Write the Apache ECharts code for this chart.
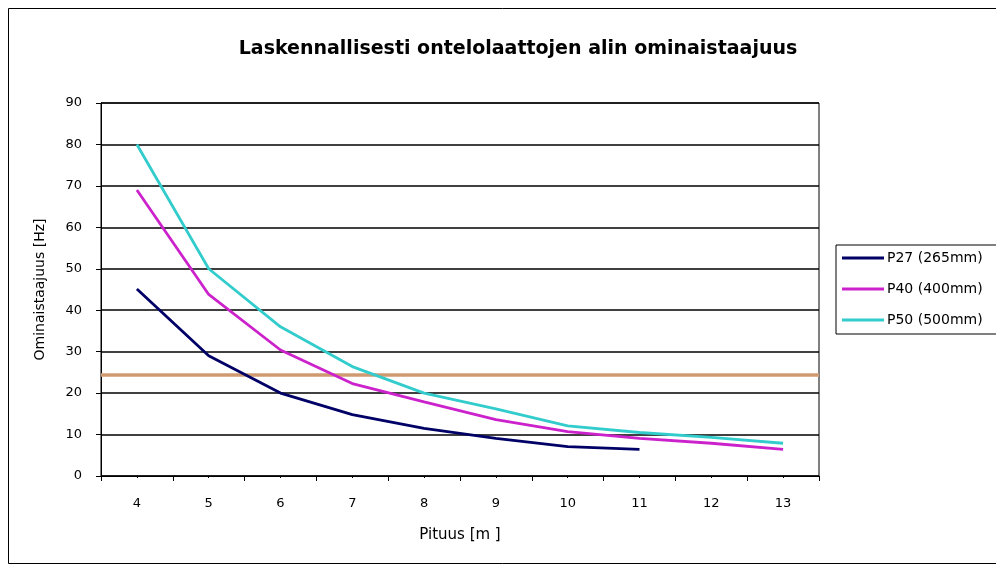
<!DOCTYPE html>
<html>
<head>
<meta charset="utf-8">
<script src="https://cdn.jsdelivr.net/npm/echarts@6/dist/echarts.min.js"></script>
<style>
  html, body { margin: 0; padding: 0; background: #fff; }
  #chart { width: 996px; height: 572px; }
</style>
</head>
<body>
<div id="chart"></div>
<script>
// Slab length [m]
const lengths = ['4', '5', '6', '7', '8', '9', '10', '11', '12', '13'];

// Lowest natural frequency [Hz] per hollow-core slab type
const p27 = [45.1, 29.0, 20.0, 14.8, 11.5, 9.1, 7.1, 6.4];
const p40 = [69.0, 43.8, 30.4, 22.3, 17.9, 13.6, 10.7, 9.1, 7.9, 6.4];
const p50 = [80.0, 50.0, 36.0, 26.4, 20.0, 16.2, 12.1, 10.5, 9.3, 7.9];

// Reference frequency limit [Hz]
const limitHz = 24.4;

const yTicks = { min: 0, max: 90, interval: 10 };

const font = 'DejaVu Sans';

const chart = echarts.init(document.getElementById('chart'), null, { renderer: 'canvas' });

const lineSeries = (name, data, color) => ({
  name,
  type: 'line',
  data,
  symbol: 'none',
  smooth: false,
  lineStyle: { color, width: 2.8 },
  itemStyle: { color },
  z: 3
});

const legendItem = (name) => ({ name, icon: 'rect' });

chart.setOption({
  backgroundColor: '#ffffff',
  animation: false,
  title: {
    text: 'Laskennallisesti ontelolaattojen alin ominaistaajuus',
    left: 513,
    top: 35,
    textAlign: 'center',
    textStyle: { fontFamily: font, fontWeight: 'bold', fontSize: 19, color: '#000' }
  },
  graphic: [{
    type: 'rect',
    shape: { x: 8.5, y: 8.5, width: 1000, height: 555 },
    style: { fill: 'none', stroke: '#000', lineWidth: 1 },
    silent: true,
    z: -1
  }],
  legend: {
    orient: 'vertical',
    left: 836,
    top: 245,
    itemWidth: 42,
    itemHeight: 3,
    itemGap: 17,
    padding: [6, 30, 7, 6],
    borderColor: '#000',
    borderWidth: 1,
    backgroundColor: '#fff',
    textStyle: { fontFamily: font, fontSize: 14, color: '#000', padding: [0, 0, 0, -2] },
    data: ['P27 (265mm)', 'P40 (400mm)', 'P50 (500mm)'].map(legendItem)
  },
  grid: {
    left: 101,
    right: 177,
    top: 103,
    bottom: 96,
    show: true,
    borderColor: '#000',
    borderWidth: 1,
    containLabel: false
  },
  xAxis: [{
    type: 'category',
    data: lengths,
    boundaryGap: true,
    name: 'Pituus [m ]',
    nameLocation: 'middle',
    nameGap: 52,
    nameTextStyle: { fontFamily: font, fontSize: 15, color: '#000' },
    axisLine: { lineStyle: { color: '#000', width: 1 } },
    axisTick: { show: true, length: 5, lineStyle: { color: '#000' } },
    axisLabel: { fontFamily: font, fontSize: 13, color: '#000', margin: 21 },
    splitLine: { show: false }
  }, {
    type: 'category',
    data: lengths,
    position: 'bottom',
    boundaryGap: true,
    axisLine: { show: false },
    axisTick: { show: true, alignWithLabel: true, length: 2, lineStyle: { color: '#000' } },
    axisLabel: { show: false },
    splitLine: { show: false }
  }],
  yAxis: {
    type: 'value',
    min: yTicks.min,
    max: yTicks.max,
    interval: yTicks.interval,
    name: 'Ominaistaajuus [Hz]',
    nameLocation: 'middle',
    nameGap: 54,
    nameRotate: 90,
    nameTextStyle: { fontFamily: font, fontSize: 14, color: '#000' },
    axisLine: { show: true, lineStyle: { color: '#000', width: 1 } },
    axisTick: { show: true, length: 5, lineStyle: { color: '#000' } },
    axisLabel: { fontFamily: font, fontSize: 13, color: '#000', margin: 19 },
    splitLine: { show: true, lineStyle: { color: '#000', width: 1.6 } }
  },
  series: [
    lineSeries('P27 (265mm)', p27, '#000066'),
    lineSeries('P40 (400mm)', p40, '#cc22cc'),
    Object.assign(lineSeries('P50 (500mm)', p50, '#33cccc'), {
      markLine: {
        silent: true,
        symbol: 'none',
        label: { show: false },
        lineStyle: { color: '#d09a70', width: 3.5, type: 'solid' },
        data: [{ yAxis: limitHz }],
        z: 2
      }
    })
  ]
});
</script>
</body>
</html>
